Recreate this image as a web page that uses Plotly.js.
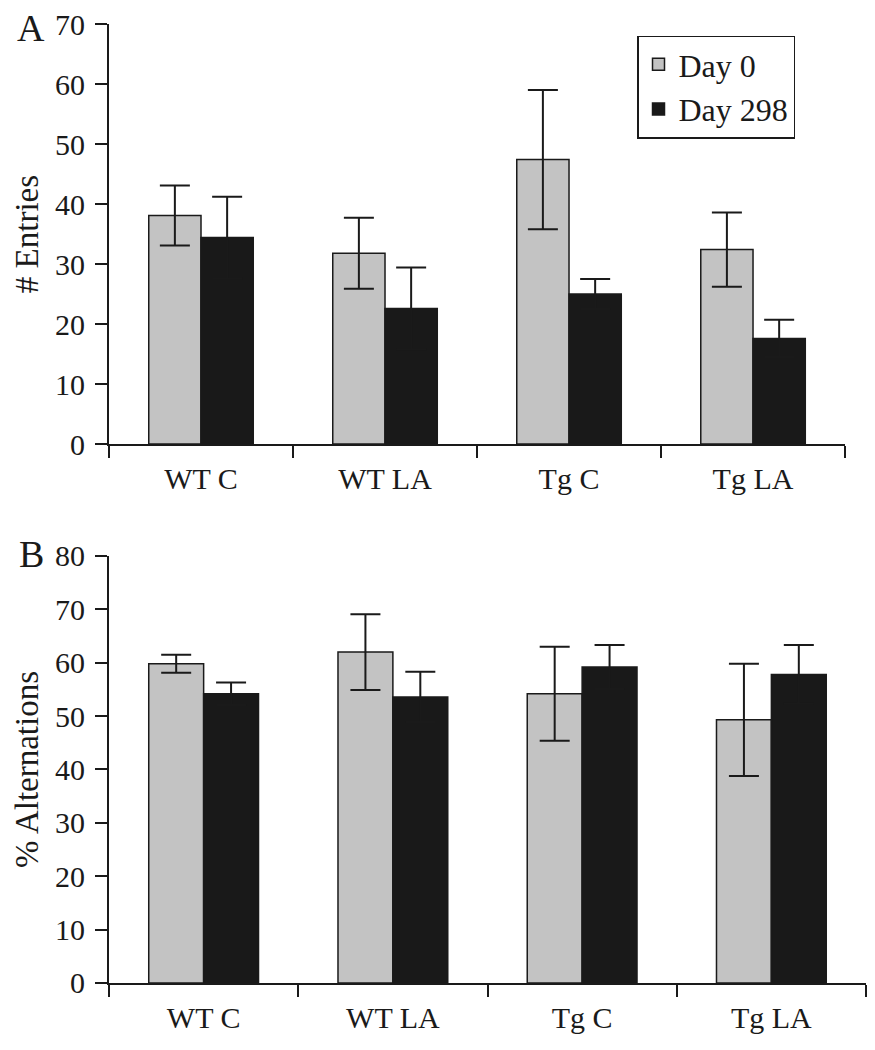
<!DOCTYPE html>
<html>
<head>
<meta charset="utf-8">
<script src="https://cdn.plot.ly/plotly-3.0.1.min.js"></script>
<style>html,body{margin:0;padding:0;background:#fff}#chart{width:875px;height:1050px}</style>
</head>
<body>
<div id="chart"></div>
<script>
// Categories
const groups = ["WT C", "WT LA", "Tg C", "Tg LA"];
const seriesNames = ["Day 0", "Day 298"];

// Panel A: # Entries
const entriesDay0 = [38.1, 31.8, 47.4, 32.4];
const entriesDay0Err = [5.0, 5.9, 11.6, 6.2];
const entriesDay298 = [34.4, 22.6, 25.0, 17.6];
const entriesDay298Err = [6.8, 6.8, 2.5, 3.1];

// Panel B: % Alternations
const altDay0 = [59.8, 62.0, 54.2, 49.3];
const altDay0Err = [1.7, 7.1, 8.8, 10.5];
const altDay298 = [54.2, 53.6, 59.2, 57.8];
const altDay298Err = [2.1, 4.7, 4.1, 5.5];

const ink = "#1a1a1a";
const grey = "#c3c3c3";
const black = "#191919";
const fontFam = "Liberation Serif, Times New Roman, serif";

function barTrace(y, err, color, name, xa, ya, off, w, showlegend) {
  return {
    type: "bar", x: groups, y: y, name: name,
    xaxis: xa, yaxis: ya, offset: off, width: w,
    showlegend: showlegend, legendgroup: name,
    marker: {color: color, line: {color: ink, width: 1.5}},
    error_y: {type: "data", array: err, visible: true, color: ink, thickness: 2, width: 15}
  };
}

const wA = 0.284, wB = 0.29;
const data = [
  barTrace(entriesDay0, entriesDay0Err, grey, seriesNames[0], "x", "y", -wA, wA, true),
  barTrace(entriesDay298, entriesDay298Err, black, seriesNames[1], "x", "y", 0, wA, true),
  barTrace(altDay0, altDay0Err, grey, seriesNames[0], "x2", "y2", -wB, wB, false),
  barTrace(altDay298, altDay298Err, black, seriesNames[1], "x2", "y2", 0, wB, false)
];

const xCommon = {
  type: "category", tickson: "boundaries", ticks: "outside", ticklen: 12, tickwidth: 2,
  tickcolor: ink, showline: true, linecolor: ink, linewidth: 2, showgrid: false,
  zeroline: false, tickfont: {family: fontFam, size: 30, color: ink},
  ticklabelstandoff: 7, automargin: false, fixedrange: true
};
const yCommon = {
  ticks: "outside", ticklen: 12, tickwidth: 2, tickcolor: ink, showline: true,
  linecolor: ink, linewidth: 2, showgrid: false, zeroline: false, dtick: 10,
  tickfont: {family: fontFam, size: 30, color: ink}, ticklabelstandoff: 4,
  automargin: false, fixedrange: true
};

const layout = {
  width: 875, height: 1050,
  margin: {l: 109, r: 9, t: 24, b: 67},
  paper_bgcolor: "#fff", plot_bgcolor: "#fff",
  font: {family: fontFam, color: ink, size: 30},
  barmode: "overlay",
  xaxis: Object.assign({}, xCommon, {domain: [0, 0.9723], anchor: "y"}),
  yaxis: Object.assign({}, yCommon, {domain: [0.562, 1], range: [0, 70], anchor: "x",
    title: {text: "# Entries", font: {family: fontFam, size: 33, color: ink}, standoff: 6}}),
  xaxis2: Object.assign({}, xCommon, {domain: [0, 1], anchor: "y2"}),
  yaxis2: Object.assign({}, yCommon, {domain: [0, 0.4453], range: [0, 80], anchor: "x2",
    title: {text: "% Alternations", font: {family: fontFam, size: 33, color: ink}, standoff: 6}}),
  legend: {
    x: 0.6975, y: 0.988, xanchor: "left", yanchor: "top",
    bordercolor: ink, borderwidth: 1.5, bgcolor: "#fff",
    font: {family: fontFam, size: 32, color: ink}, traceorder: "grouped", tracegroupgap: 0
  },
  annotations: [
    {text: "A", xref: "paper", yref: "paper", x: -0.103, y: 0.996, xanchor: "center", yanchor: "middle",
     showarrow: false, font: {family: fontFam, size: 38, color: ink}},
    {text: "B", xref: "paper", yref: "paper", x: -0.102, y: 0.4473, xanchor: "center", yanchor: "middle",
     showarrow: false, font: {family: fontFam, size: 38, color: ink}}
  ]
};

Plotly.newPlot("chart", data, layout, {displayModeBar: false, staticPlot: true});
</script>
</body>
</html>
